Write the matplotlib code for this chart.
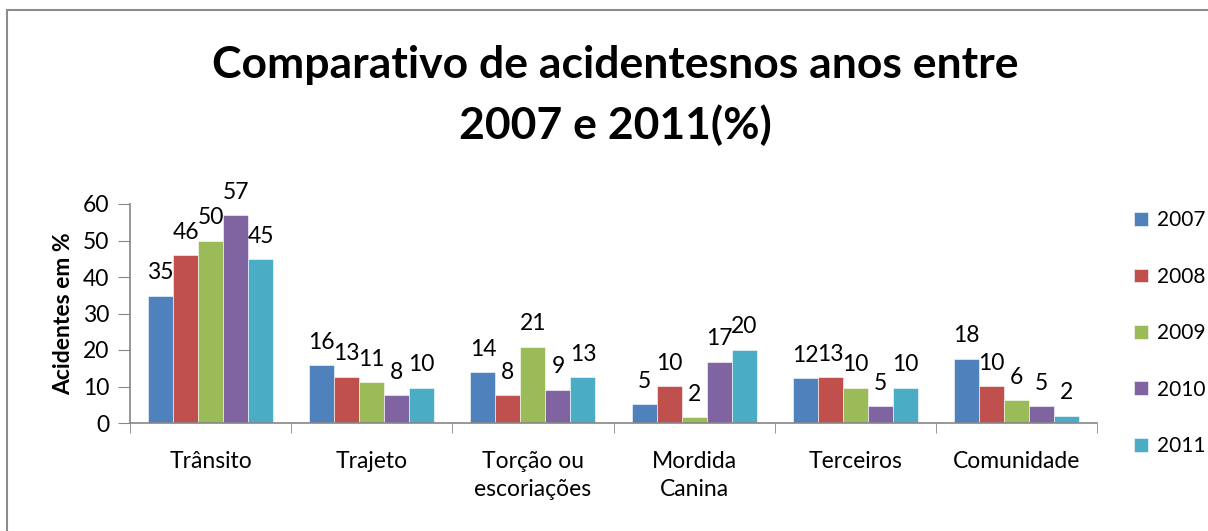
import matplotlib
matplotlib.use("Agg")
import matplotlib.pyplot as plt
import numpy as np
from matplotlib.patches import Rectangle

categories = ["Trânsito", "Trajeto", "Torção ou\nescoriações", "Mordida\nCanina", "Terceiros", "Comunidade"]
years = ["2007", "2008", "2009", "2010", "2011"]
v2007 = [34.9, 15.8, 13.9, 5.1, 12.2, 17.6]
v2008 = [46.0, 12.7, 7.6, 10.1, 12.6, 10.1]
v2009 = [49.9, 11.2, 20.9, 1.6, 9.6, 6.3]
v2010 = [56.9, 7.6, 9.1, 16.8, 4.6, 4.6]
v2011 = [44.9, 9.6, 12.6, 20.1, 9.6, 2.0]
series = [v2007, v2008, v2009, v2010, v2011]
colors = ["#4F81BD", "#C0504D", "#9BBB59", "#8064A2", "#4BACC6"]

plt.rcParams['font.family'] = ['Lato', 'DejaVu Sans']
FS = 16.5

fig = plt.figure(figsize=(12.08, 5.31), dpi=100)
ax = fig.add_axes([130/1208, 1-423/531, (1097-130)/1208, (423-204)/531])

x = np.arange(len(categories))
w = 0.155
for i, (vals, c, yr) in enumerate(zip(series, colors, years)):
    bars = ax.bar(x + (i - 2) * w, vals, w, color=c, label=yr, edgecolor="white", linewidth=0.4)
    ax.bar_label(bars, labels=[f"{round(v)}" for v in vals], padding=9, fontsize=FS)

ax.set_xlim(-0.5, len(categories) - 0.5)
ax.set_ylim(0, 60)
ax.set_yticks(range(0, 61, 10))
ax.set_xticks(x)
ax.set_xticklabels(categories, fontsize=FS, linespacing=1.45)
ax.set_xticks(np.arange(-0.5, len(categories), 1), minor=True)
ax.tick_params(axis='x', which='major', length=0, pad=20)
ax.tick_params(axis='x', which='minor', length=7, color="#868686", direction='out')
ax.tick_params(axis='y', length=9, color="#868686", labelsize=FS, pad=6)
for s in ["top", "right"]:
    ax.spines[s].set_visible(False)
for s in ["left", "bottom"]:
    ax.spines[s].set_color("#868686")
    ax.spines[s].set_linewidth(1.2)

ax.set_ylabel("Acidentes em %", fontsize=FS, fontweight="bold", labelpad=6)

fig.text(615/1208, 1-65/531, "Comparativo de acidentesnos anos entre", ha="center", va="center",
         fontsize=32, fontweight="bold")
fig.text(615/1208, 1-125/531, "2007 e 2011(%)", ha="center", va="center",
         fontsize=32, fontweight="bold")

leg = fig.legend(loc="upper left", bbox_to_anchor=(1126/1208, 1-202/531), frameon=False,
                 fontsize=15, handlelength=0.65, handleheight=0.65, labelspacing=1.75,
                 handletextpad=0.45, borderaxespad=0)

fig.patches.append(Rectangle((7/1208, -0.1), 1.2, 1.1 - 10/531, transform=fig.transFigure,
                             fill=False, edgecolor="#8c8c8c", linewidth=1.5))

fig.savefig("out.png", dpi=100)
